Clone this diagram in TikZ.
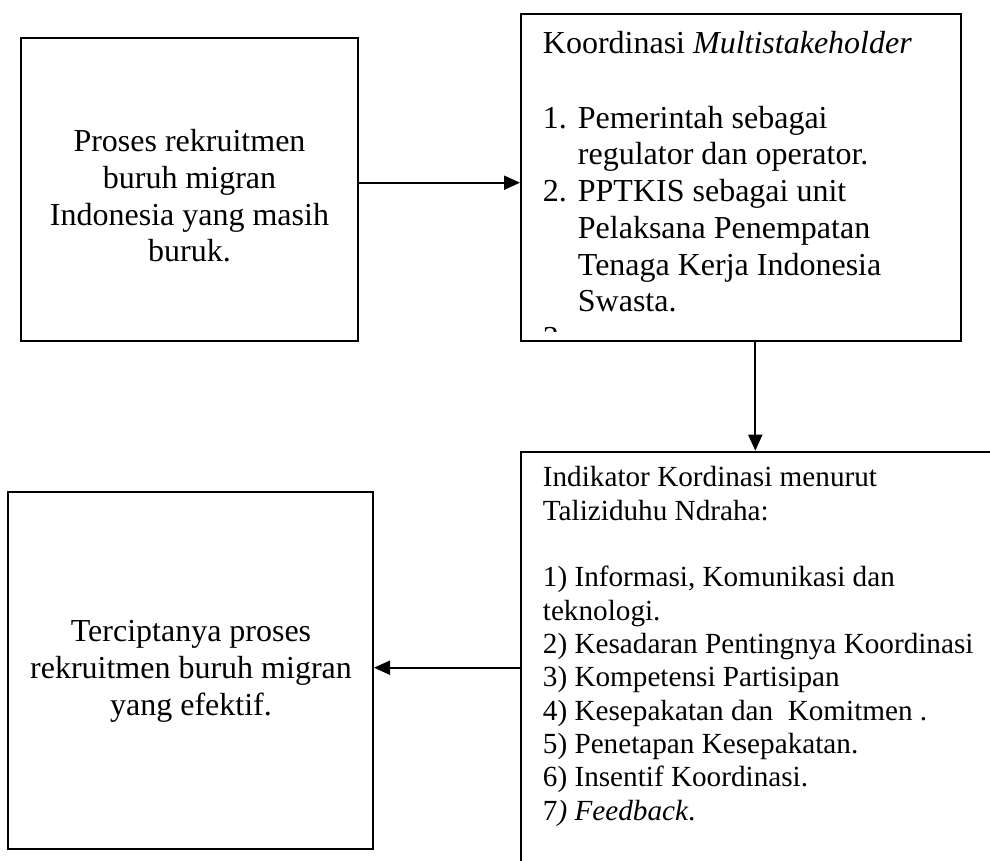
\documentclass[tikz,border=0pt]{standalone}
\usepackage{fontspec}
\setmainfont{Liberation Serif}
\usetikzlibrary{arrows.meta}
\begin{document}
\begin{tikzpicture}[x=1pt,y=-1pt,
  box/.style={draw=black, line width=2pt, rectangle, inner sep=0pt},
  txt/.style={inner sep=0pt, font=\fontsize{32}{36.7}\selectfont},
  txtsm/.style={inner sep=0pt, font=\fontsize{29.2}{33.3}\selectfont},
  arr/.style={line width=2pt, -{Triangle[length=16pt,width=14pt]}}]
\useasboundingbox (0,0) rectangle (990,861);
\clip (0,0) rectangle (990,861);
% boxes
\node[box, minimum width=337pt, minimum height=303pt] (A) at (189.5,189.5) {};
\node[box, minimum width=440.3pt, minimum height=326.4pt] (B) at (741.15,177.5) {};
\node[box, minimum width=479pt, minimum height=428.3pt] (C) at (760.5,665.85) {};
\node[box, minimum width=365pt, minimum height=357.3pt] (D) at (190.5,670.35) {};
% box A text
\node[txt, anchor=base] (a1) at (189.5,151.7) {Proses rekruitmen};
\node[txt, anchor=base] (a2) at (189.5,188.4) {buruh migran};
\node[txt, anchor=base] (a3) at (189.5,225.1) {Indonesia yang masih};
\node[txt, anchor=base] (a4) at (189.5,261.8) {buruk.};
% box B text
\node[txt, anchor=base west] (b0) at (542.7,53.3) {Koordinasi \textit{Multistakeholder}};
\node[txt, anchor=base west] (b1n) at (542.7,128.3) {1.};
\node[txt, anchor=base west] (b1) at (577.7,128.3) {Pemerintah sebagai};
\node[txt, anchor=base west] (b2) at (577.7,165) {regulator dan operator.};
\node[txt, anchor=base west] (b3n) at (542.7,201.7) {2.};
\node[txt, anchor=base west] (b3) at (577.7,201.7) {PPTKIS sebagai unit};
\node[txt, anchor=base west] (b4) at (577.7,238.3) {Pelaksana Penempatan};
\node[txt, anchor=base west] (b5) at (577.7,275) {Tenaga Kerja Indonesia};
\node[txt, anchor=base west] (b6) at (577.7,311.7) {Swasta.};
\begin{scope}
\clip (521,14.3) rectangle (961.3,331);
\node[txt, anchor=base west] (b7n) at (542.7,348.3) {3.};
\end{scope}
% box C text
\node[txtsm, anchor=base west] (c1) at (542.7,486.7) {Indikator Kordinasi menurut};
\node[txtsm, anchor=base west] (c2) at (542.7,520) {Taliziduhu Ndraha:};
\node[txtsm, anchor=base west] (c3) at (542.7,586.7) {1) Informasi, Komunikasi dan};
\node[txtsm, anchor=base west] (c4) at (542.7,620) {teknologi.};
\node[txtsm, anchor=base west] (c5) at (542.7,653.3) {2) Kesadaran Pentingnya Koordinasi};
\node[txtsm, anchor=base west] (c6) at (542.7,686.7) {3) Kompetensi Partisipan};
\node[txtsm, anchor=base west] (c7) at (542.7,720) {4) Kesepakatan dan~~Komitmen .};
\node[txtsm, anchor=base west] (c8) at (542.7,753.3) {5) Penetapan Kesepakatan.};
\node[txtsm, anchor=base west] (c9) at (542.7,786.7) {6) Insentif Koordinasi.};
\node[txtsm, anchor=base west] (c10) at (542.7,820) {7\textit{) Feedback}.};
% box D text
\node[txt, anchor=base] (d1) at (191,641.7) {Terciptanya proses};
\node[txt, anchor=base] (d2) at (191,678.4) {rekruitmen buruh migran};
\node[txt, anchor=base] (d3) at (191,715.1) {yang efektif.};
% connectors
\coordinate (ab) at (0,182.7);
\coordinate (bc) at (755.3,0);
\coordinate (cd) at (0,667.7);
\draw[arr] (A.east |- ab) -- (B.west |- ab);
\draw[arr] (B.south -| bc) -- (C.north -| bc);
\draw[arr] (C.west |- cd) -- (D.east |- cd);
\end{tikzpicture}
\end{document}
